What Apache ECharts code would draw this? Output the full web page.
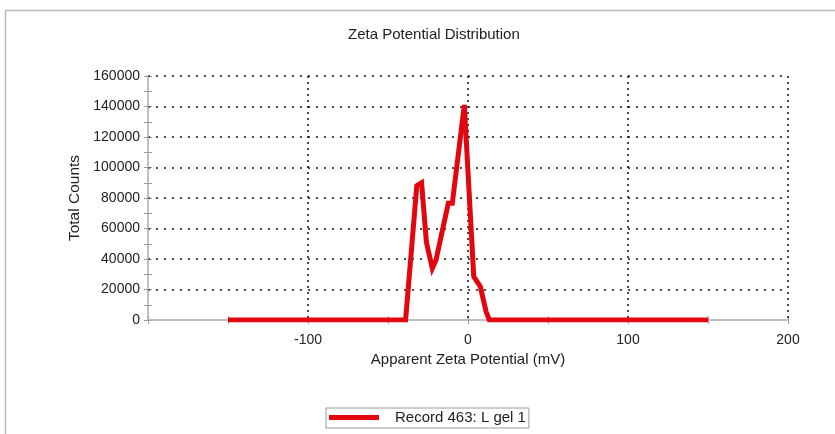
<!DOCTYPE html>
<html>
<head>
<meta charset="utf-8">
<script src="https://cdn.jsdelivr.net/npm/echarts@6/dist/echarts.min.js"></script>
<style>
  html, body { margin: 0; padding: 0; background: #fff; }
  #chart { width: 835px; height: 434px; }
</style>
</head>
<body>
<div id="chart"></div>
<script>
// Zeta potential distribution of one measurement record
const potentialMv = [-150, -39, -32, -29, -26, -22.3, -20, -12.3, -9.8, -2.3, 3.6, 7.7, 11.3, 13.3, 150];
const totalCounts = [0, 0, 88000, 90000, 51000, 33900, 39300, 76500, 76500, 141000, 28400, 21900, 5500, 0, 0];
const recordName = 'Record 463: L gel 1';

const FONT = '"Liberation Sans", Arial, sans-serif';
const chart = echarts.init(document.getElementById('chart'));

const points = potentialMv.map((x, i) => [x, totalCounts[i]]);

const dotted = (dash) => ({ show: true, lineStyle: { color: '#111', width: 1.5, type: dash } });
const tickStyle = { color: '#999' };

chart.setOption({
  animation: false,
  backgroundColor: '#fff',
  textStyle: { fontFamily: FONT },
  graphic: [{
    type: 'rect',
    shape: { x: 5.5, y: 10.5, width: 840, height: 440 },
    style: { fill: 'none', stroke: '#b8b8b8', lineWidth: 1.5 },
    silent: true
  }],
  title: {
    text: 'Zeta Potential Distribution',
    left: 343, top: 22,
    textStyle: { fontFamily: FONT, fontSize: 15, fontWeight: 'normal', color: '#222' }
  },
  legend: {
    left: 326, top: 408,
    padding: [2, 3, 3, 3],
    borderColor: '#999', borderWidth: 1,
    icon: 'rect', itemWidth: 50, itemHeight: 5,
    textStyle: { fontFamily: FONT, fontSize: 15, color: '#222', padding: [0, 0, 0, 11] },
    data: [recordName]
  },
  grid: { left: 148, right: 47, top: 76, bottom: 114 },
  xAxis: [{
    type: 'value', min: -200, max: 200, interval: 100,
    name: 'Apparent Zeta Potential (mV)', nameLocation: 'middle', nameGap: 31,
    nameTextStyle: { fontFamily: FONT, fontSize: 15, color: '#222' },
    axisLine: { show: true, onZero: false, lineStyle: { color: '#aaa', width: 1.5 } },
    axisTick: { show: true, length: 4, lineStyle: tickStyle },
    minorTick: { show: true, splitNumber: 2, length: 4, lineStyle: tickStyle },
    axisLabel: { showMinLabel: false, fontFamily: FONT, fontSize: 14, color: '#222', margin: 13 },
    splitLine: Object.assign(dotted([2, 4]), { showMinLine: false }),
    z: 3
  }, {
    type: 'value', min: -200, max: 200, interval: 100, position: 'bottom',
    axisLine: { show: false, onZero: false },
    axisTick: { show: true, inside: true, length: 4, lineStyle: tickStyle },
    minorTick: { show: true, splitNumber: 2, length: 4, lineStyle: tickStyle },
    axisLabel: { show: false }, splitLine: { show: false }
  }],
  yAxis: [{
    type: 'value', min: 0, max: 160000, interval: 20000,
    name: 'Total Counts', nameLocation: 'middle', nameGap: 60,
    nameTextStyle: { fontFamily: FONT, fontSize: 15.5, color: '#222' },
    axisLine: { show: true, onZero: false, lineStyle: { color: '#aaa', width: 1.5 } },
    axisTick: { show: true, length: 4, lineStyle: tickStyle },
    minorTick: { show: true, splitNumber: 2, length: 4, lineStyle: tickStyle },
    axisLabel: { fontFamily: FONT, fontSize: 14, color: '#222', margin: 8, formatter: (v) => String(v) },
    splitLine: Object.assign(dotted([2, 6]), { showMinLine: false }),
    z: 3
  }, {
    type: 'value', min: 0, max: 160000, interval: 20000, position: 'left',
    axisLine: { show: false, onZero: false },
    axisTick: { show: true, inside: true, length: 4, lineStyle: tickStyle },
    minorTick: { show: true, splitNumber: 2, length: 4, lineStyle: tickStyle },
    axisLabel: { show: false }, splitLine: { show: false }
  }],
  series: [{
    name: recordName,
    type: 'line',
    data: points,
    symbol: 'none',
    color: '#e3060f',
    lineStyle: { width: 5, color: '#e3060f', join: 'miter' },
    z: 4
  }]
});
</script>
</body>
</html>
